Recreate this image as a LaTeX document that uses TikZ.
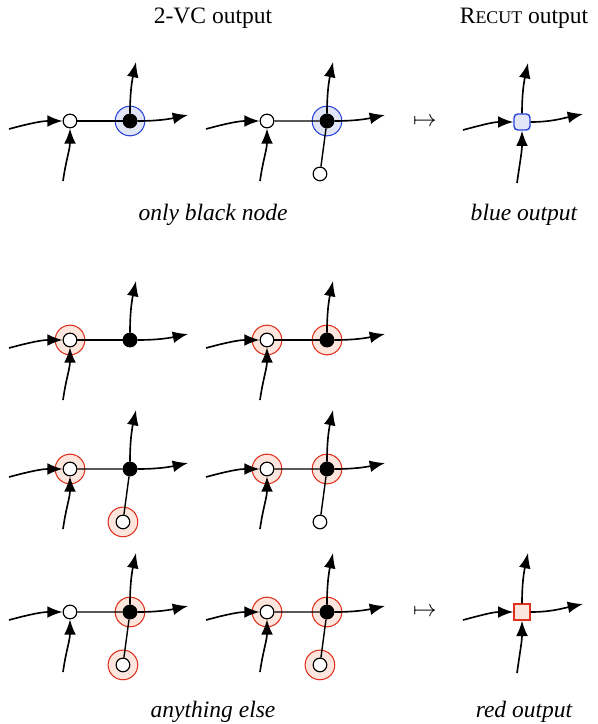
\documentclass[tikz,border=0pt]{standalone}
\usepackage{fontspec}
\setmainfont{Liberation Serif}
\usepackage{tikz}
\usetikzlibrary{arrows.meta, positioning, backgrounds}
\definecolor{haloblue}{HTML}{E2E5F6}
\definecolor{lineblue}{HTML}{2A44D8}
\definecolor{halored}{HTML}{FCE5DC}
\definecolor{linered}{HTML}{E0301E}

\begin{document}
\begin{tikzpicture}[
    x=0.425pt, y=-0.425pt,
    node distance=25.5pt, on grid,
    wnode/.style={draw, circle, fill=white, minimum size=5.8pt, inner sep=0pt, line width=0.5pt},
    bnode/.style={wnode, fill=black},
    bhalo/.style={draw=lineblue, circle, fill=haloblue, minimum size=12.6pt, inner sep=0pt, line width=0.45pt},
    rhalo/.style={bhalo, draw=linered, fill=halored},
    bsquare/.style={draw=lineblue, fill=haloblue, rectangle, rounded corners=1.6pt, minimum size=6.8pt, inner sep=0pt, line width=0.6pt},
    rsquare/.style={bsquare, draw=linered, fill=halored, sharp corners},
    link/.style={line width=0.6pt},
    arrow/.style={line width=0.7pt, -{Latex[length=6.5pt, width=5pt]}},
    inl/.style={arrow, out=15, in=180},
    inb/.style={arrow, out=82, in=-90},
    outu/.style={arrow, out=90, in=-102},
    outr/.style={arrow, out=0, in=192},
    caption/.style={font=\itshape}
]
\useasboundingbox (0,0) rectangle (598,724);

% Headings and captions
\node (head2vc) at (213,18) {2-VC output};
\node (headrecut) at (524,18) {R{\fontsize{7.6pt}{9pt}\selectfont ECUT} output};
\node[caption] (capblack) at (213,215) {only black node};
\node[caption] (capblue) at (524,215) {blue output};
\node[caption] (capelse) at (213,712) {anything else};
\node[caption] (capred) at (524,712) {red output};
\node (map1) at (425,122) {$\mapsto$};
\node (map2) at (425,612) {$\mapsto$};

% Row 1, left
\node[wnode] (g1w) at (70,121) {};
\node[bnode, right=of g1w] (g1b) {};
\path (g1w) ++(-61,8) coordinate (g1l) (g1w) ++(-7,60) coordinate (g1d)
      (g1b) ++(6,-59) coordinate (g1u) (g1b) ++(58,-6) coordinate (g1r);
\draw[link] (g1w) -- (g1b);
\draw (g1l) edge[inl] (g1w) (g1d) edge[inb] (g1w) (g1b) edge[outu] (g1u) edge[outr] (g1r);

% Row 1, right
\node[wnode] (g2w) at (267,121) {};
\node[bnode, right=of g2w] (g2b) {};
\node[wnode, below left=22.5pt and 3pt of g2b] (g2x) {};
\path (g2w) ++(-61,8) coordinate (g2l) (g2w) ++(-7,60) coordinate (g2d)
      (g2b) ++(6,-59) coordinate (g2u) (g2b) ++(58,-6) coordinate (g2r);
\draw[link] (g2w) -- (g2b) (g2x) -- (g2b);
\draw (g2l) edge[inl] (g2w) (g2d) edge[inb] (g2w) (g2b) edge[outu] (g2u) edge[outr] (g2r);

% Row 2, left
\node[wnode] (g3w) at (70,340) {};
\node[bnode, right=of g3w] (g3b) {};
\path (g3w) ++(-61,8) coordinate (g3l) (g3w) ++(-7,60) coordinate (g3d)
      (g3b) ++(6,-59) coordinate (g3u) (g3b) ++(58,-6) coordinate (g3r);
\draw[link] (g3w) -- (g3b);
\draw (g3l) edge[inl] (g3w) (g3d) edge[inb] (g3w) (g3b) edge[outu] (g3u) edge[outr] (g3r);

% Row 2, right
\node[wnode] (g4w) at (267,340) {};
\node[bnode, right=of g4w] (g4b) {};
\path (g4w) ++(-61,8) coordinate (g4l) (g4w) ++(-7,60) coordinate (g4d)
      (g4b) ++(6,-59) coordinate (g4u) (g4b) ++(58,-6) coordinate (g4r);
\draw[link] (g4w) -- (g4b);
\draw (g4l) edge[inl] (g4w) (g4d) edge[inb] (g4w) (g4b) edge[outu] (g4u) edge[outr] (g4r);

% Row 3, left
\node[wnode] (g5w) at (70,469) {};
\node[bnode, right=of g5w] (g5b) {};
\node[wnode, below left=22.5pt and 3pt of g5b] (g5x) {};
\path (g5w) ++(-61,8) coordinate (g5l) (g5w) ++(-7,60) coordinate (g5d)
      (g5b) ++(6,-59) coordinate (g5u) (g5b) ++(58,-6) coordinate (g5r);
\draw[link] (g5w) -- (g5b) (g5x) -- (g5b);
\draw (g5l) edge[inl] (g5w) (g5d) edge[inb] (g5w) (g5b) edge[outu] (g5u) edge[outr] (g5r);

% Row 3, right
\node[wnode] (g6w) at (267,469) {};
\node[bnode, right=of g6w] (g6b) {};
\node[wnode, below left=22.5pt and 3pt of g6b] (g6x) {};
\path (g6w) ++(-61,8) coordinate (g6l) (g6w) ++(-7,60) coordinate (g6d)
      (g6b) ++(6,-59) coordinate (g6u) (g6b) ++(58,-6) coordinate (g6r);
\draw[link] (g6w) -- (g6b) (g6x) -- (g6b);
\draw (g6l) edge[inl] (g6w) (g6d) edge[inb] (g6w) (g6b) edge[outu] (g6u) edge[outr] (g6r);

% Row 4, left
\node[wnode] (g7w) at (70,612) {};
\node[bnode, right=of g7w] (g7b) {};
\node[wnode, below left=22.5pt and 3pt of g7b] (g7x) {};
\path (g7w) ++(-61,8) coordinate (g7l) (g7w) ++(-7,60) coordinate (g7d)
      (g7b) ++(6,-59) coordinate (g7u) (g7b) ++(58,-6) coordinate (g7r);
\draw[link] (g7w) -- (g7b) (g7x) -- (g7b);
\draw (g7l) edge[inl] (g7w) (g7d) edge[inb] (g7w) (g7b) edge[outu] (g7u) edge[outr] (g7r);

% Row 4, right
\node[wnode] (g8w) at (267,612) {};
\node[bnode, right=of g8w] (g8b) {};
\node[wnode, below left=22.5pt and 3pt of g8b] (g8x) {};
\path (g8w) ++(-61,8) coordinate (g8l) (g8w) ++(-7,60) coordinate (g8d)
      (g8b) ++(6,-59) coordinate (g8u) (g8b) ++(58,-6) coordinate (g8r);
\draw[link] (g8w) -- (g8b) (g8x) -- (g8b);
\draw (g8l) edge[inl] (g8w) (g8d) edge[inb] (g8w) (g8b) edge[outu] (g8u) edge[outr] (g8r);

% Outputs
\node[bsquare] (o1) at (522,122) {};
\path (o1) ++(-59,8) coordinate (o1l) (o1) ++(-5,61) coordinate (o1d)
      (o1) ++(6,-59) coordinate (o1u) (o1) ++(61,-8) coordinate (o1r);
\draw (o1l) edge[inl] (o1) (o1d) edge[inb] (o1) (o1) edge[outu] (o1u) edge[outr] (o1r);
\node[rsquare] (o2) at (522,612) {};
\path (o2) ++(-59,8) coordinate (o2l) (o2) ++(-5,61) coordinate (o2d)
      (o2) ++(6,-59) coordinate (o2u) (o2) ++(61,-8) coordinate (o2r);
\draw (o2l) edge[inl] (o2) (o2d) edge[inb] (o2) (o2) edge[outu] (o2u) edge[outr] (o2r);

% Halos behind the gadgets
\begin{scope}[on background layer]
\node[bhalo] (g1bh) at (g1b) {};
\node[bhalo] (g2bh) at (g2b) {};
\node[rhalo] (g3wh) at (g3w) {};
\node[rhalo] (g4wh) at (g4w) {};
\node[rhalo] (g4bh) at (g4b) {};
\node[rhalo] (g5wh) at (g5w) {};
\node[rhalo] (g5xh) at (g5x) {};
\node[rhalo] (g6wh) at (g6w) {};
\node[rhalo] (g6bh) at (g6b) {};
\node[rhalo] (g7bh) at (g7b) {};
\node[rhalo] (g7xh) at (g7x) {};
\node[rhalo] (g8wh) at (g8w) {};
\node[rhalo] (g8bh) at (g8b) {};
\node[rhalo] (g8xh) at (g8x) {};
\end{scope}

\end{tikzpicture}
\end{document}
